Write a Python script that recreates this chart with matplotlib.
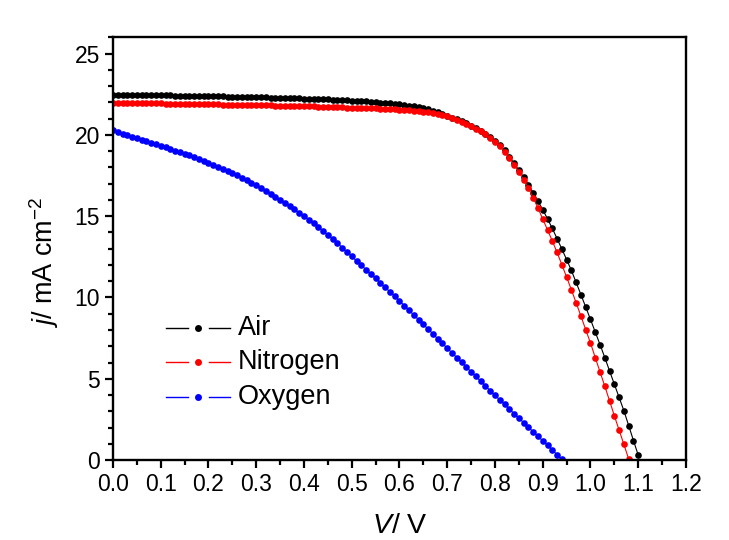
import numpy as np
import matplotlib
matplotlib.use('Agg')
from matplotlib import pyplot as plt
from matplotlib.ticker import MultipleLocator, FormatStrFormatter

plt.rcParams['font.family'] = ['Liberation Sans', 'DejaVu Sans']
plt.rcParams['mathtext.fontset'] = 'custom'
plt.rcParams['mathtext.rm'] = 'Liberation Sans'
plt.rcParams['mathtext.it'] = 'Liberation Sans:italic'

# voltage step of the scans: 0.01 V
v_air = np.round(np.arange(0, 111) * 0.01, 2)
v_nitrogen = np.round(np.arange(0, 109) * 0.01, 2)
v_oxygen = np.round(np.arange(0, 95) * 0.01, 2)

j_air = [
    22.48, 22.47, 22.47, 22.46, 22.46, 22.45, 22.45, 22.44, 22.44, 22.43,
    22.43, 22.42, 22.42, 22.41, 22.41, 22.40, 22.40, 22.39, 22.39, 22.38,
    22.38, 22.37, 22.36, 22.36, 22.35, 22.35, 22.34, 22.33, 22.33, 22.32,
    22.31, 22.31, 22.30, 22.29, 22.28, 22.28, 22.27, 22.26, 22.25, 22.24,
    22.23, 22.22, 22.21, 22.20, 22.19, 22.18, 22.17, 22.15, 22.14, 22.12,
    22.11, 22.09, 22.07, 22.05, 22.03, 22.01, 21.98, 21.96, 21.93, 21.90,
    21.87, 21.83, 21.79, 21.75, 21.70, 21.64, 21.57, 21.49, 21.40, 21.29,
    21.17, 21.06, 20.95, 20.84, 20.71, 20.57, 20.42, 20.26, 20.08, 19.88,
    19.64, 19.37, 19.05, 18.65, 18.25, 17.82, 17.40, 16.93, 16.44, 15.93,
    15.40, 14.83, 14.25, 13.62, 12.98, 12.33, 11.66, 10.92, 10.17, 9.41,
    8.65, 7.87, 7.10, 6.30, 5.48, 4.66, 3.85, 3.03, 2.12, 1.20,
    0.30,
]

j_nitrogen = [
    21.98, 21.97, 21.97, 21.96, 21.96, 21.95, 21.95, 21.94, 21.94, 21.93,
    21.93, 21.92, 21.92, 21.91, 21.91, 21.90, 21.90, 21.89, 21.89, 21.88,
    21.88, 21.87, 21.87, 21.86, 21.86, 21.85, 21.85, 21.84, 21.84, 21.83,
    21.83, 21.82, 21.82, 21.81, 21.80, 21.80, 21.79, 21.78, 21.78, 21.77,
    21.76, 21.75, 21.75, 21.74, 21.73, 21.72, 21.71, 21.70, 21.69, 21.68,
    21.67, 21.66, 21.65, 21.64, 21.63, 21.62, 21.61, 21.59, 21.58, 21.56,
    21.55, 21.53, 21.51, 21.49, 21.46, 21.43, 21.40, 21.35, 21.29, 21.22,
    21.13, 21.03, 20.92, 20.80, 20.67, 20.53, 20.38, 20.21, 20.03, 19.82,
    19.58, 19.30, 18.95, 18.57, 18.16, 17.71, 17.24, 16.73, 16.12, 15.50,
    14.82, 14.16, 13.48, 12.77, 12.02, 11.25, 10.47, 9.67, 8.85, 8.02,
    7.20, 6.30, 5.42, 4.54, 3.64, 2.72, 1.84, 0.96, 0.06,
]

j_oxygen = [
    20.30, 20.18, 20.08, 19.98, 19.88, 19.79, 19.70, 19.61, 19.52, 19.42,
    19.32, 19.23, 19.13, 19.03, 18.93, 18.83, 18.73, 18.62, 18.51, 18.40,
    18.29, 18.17, 18.05, 17.92, 17.79, 17.66, 17.52, 17.37, 17.22, 17.06,
    16.90, 16.73, 16.56, 16.38, 16.20, 16.01, 15.82, 15.62, 15.42, 15.21,
    15.00, 14.78, 14.55, 14.32, 14.08, 13.84, 13.59, 13.33, 13.07, 12.79,
    12.52, 12.25, 11.98, 11.71, 11.44, 11.17, 10.90, 10.62, 10.35, 10.07,
    9.79, 9.50, 9.21, 8.92, 8.63, 8.34, 8.05, 7.76, 7.46, 7.17,
    6.88, 6.59, 6.30, 6.01, 5.72, 5.43, 5.14, 4.85, 4.56, 4.27,
    3.98, 3.70, 3.42, 3.14, 2.86, 2.58, 2.30, 2.02, 1.74, 1.46,
    1.18, 0.90, 0.62, 0.34, 0.06,
]

labels = ['Air', 'Nitrogen', 'Oxygen']
colors = ['black', 'red', 'blue']

fig = plt.figure(figsize=(7.29, 5.4), dpi=100)
ax = fig.add_axes([0.155, 0.148, 0.786, 0.783])

for v, j, c in zip([v_air, v_nitrogen, v_oxygen], [j_air, j_nitrogen, j_oxygen], colors):
    ax.plot(v, j, color=c, lw=0.8, marker='o', ms=4.8, mec='none', mfc=c)

ax.set_xlim(0, 1.2)
ax.set_ylim(0, 26)
ax.xaxis.set_major_locator(MultipleLocator(0.1))
ax.xaxis.set_minor_locator(MultipleLocator(0.05))
ax.xaxis.set_major_formatter(FormatStrFormatter('%.1f'))
ax.yaxis.set_major_locator(MultipleLocator(5))
ax.yaxis.set_minor_locator(MultipleLocator(1))
ax.tick_params(which='both', direction='out', width=1.6, labelsize=16.5)
ax.tick_params(which='major', length=6)
ax.tick_params(which='minor', length=3.5)
for s in ax.spines.values():
    s.set_linewidth(1.7)

ax.set_xlabel(r'$V$/ V', fontsize=20.5, labelpad=12)
ax.set_ylabel(r'$j$/ mA cm$^{-2}$', fontsize=19.5)
ax.yaxis.set_label_coords(-0.09, 0.468)

# Origin style legend drawn by hand: line - dot - line, then the label
tr = ax.transAxes
leg_y = [0.313, 0.232, 0.149]
for y, c, lab in zip(leg_y, colors, labels):
    ax.plot([0.0925, 0.131], [y, y], color=c, lw=1.0, transform=tr)
    ax.plot([0.1675, 0.2042], [y, y], color=c, lw=1.0, transform=tr)
    ax.plot([0.1478], [y], ls='none', marker='o', ms=5, mfc=c, mec='none', transform=tr)
    ax.text(0.218, y, lab, fontsize=19.5, va='center', ha='left', transform=tr)

fig.savefig('out.png', dpi=100)
